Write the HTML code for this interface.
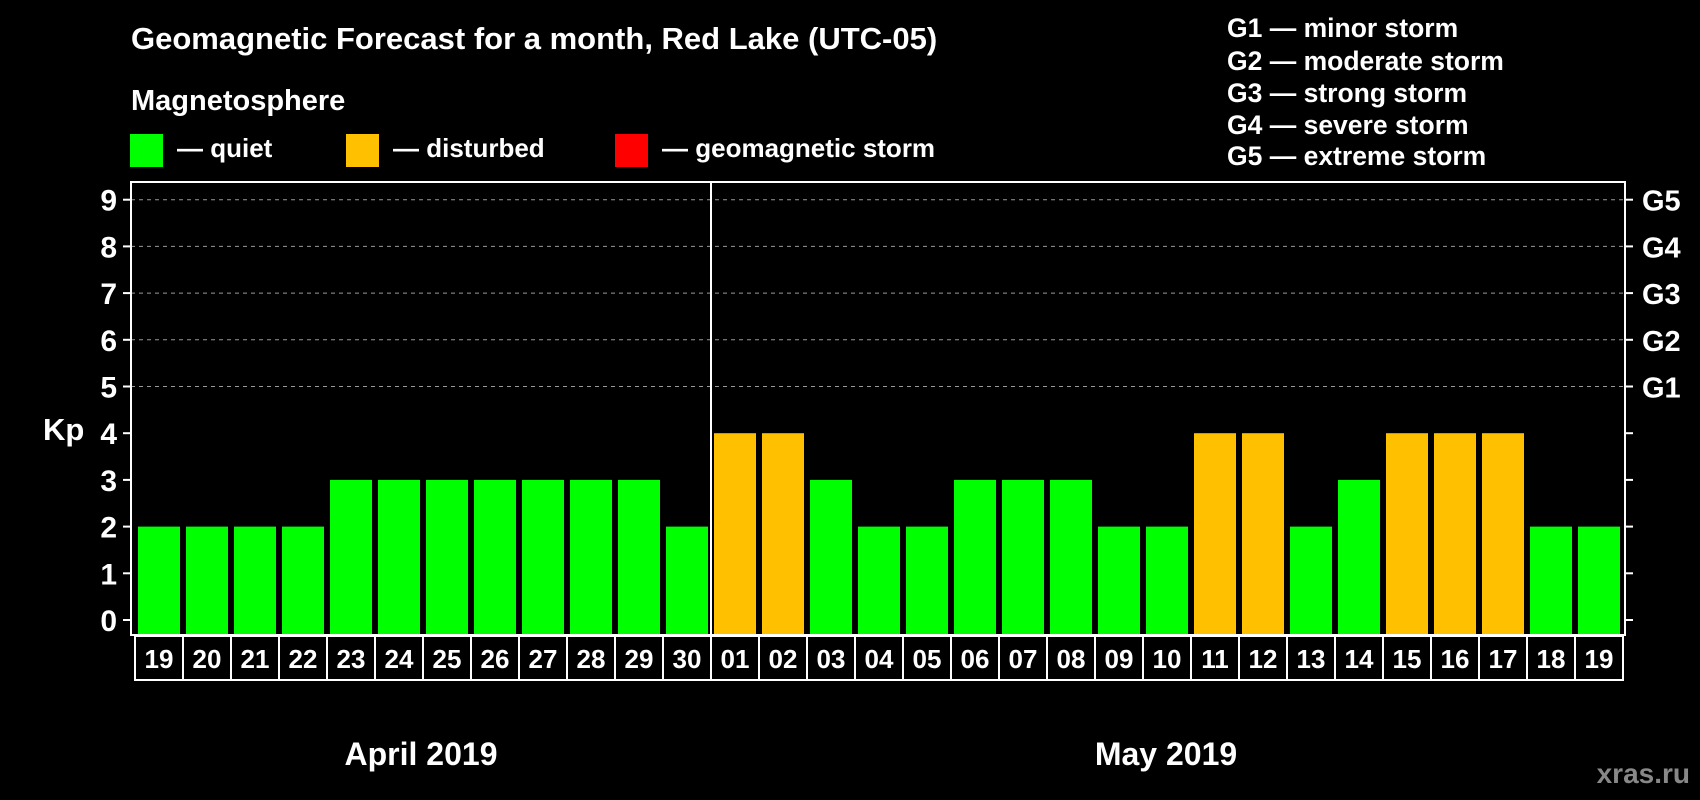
<!DOCTYPE html>
<html><head><meta charset="utf-8"><style>
body{margin:0;background:#000;width:1700px;height:800px;overflow:hidden}
svg{display:block;font-family:"Liberation Sans",sans-serif;font-weight:bold}
</style></head><body>
<svg id="c" width="1700" height="800">
<text x="131" y="49" fill="#fff" font-size="31">Geomagnetic Forecast for a month, Red Lake (UTC-05)</text>
<text x="131" y="110" fill="#fff" font-size="29">Magnetosphere</text>
<g><rect x="130" y="134" width="33" height="33" fill="#00ff00"/><text x="177" y="157" fill="#fff" font-size="26">— quiet</text></g>
<g><rect x="346" y="134" width="33" height="33" fill="#ffc000"/><text x="393" y="157" fill="#fff" font-size="26">— disturbed</text></g>
<g><rect x="615" y="134" width="33" height="33" fill="#ff0000"/><text x="662" y="157" fill="#fff" font-size="26">— geomagnetic storm</text></g>
<g fill="#fff" font-size="26.5">
<text x="1227" y="37">G1 — minor storm</text><text x="1227" y="70">G2 — moderate storm</text><text x="1227" y="102">G3 — strong storm</text><text x="1227" y="134">G4 — severe storm</text><text x="1227" y="165">G5 — extreme storm</text></g>
<text x="43" y="440" fill="#fff" font-size="31">Kp</text>
<text x="421" y="765" fill="#fff" font-size="32" text-anchor="middle">April 2019</text>
<text x="1166" y="765" fill="#fff" font-size="32" text-anchor="middle">May 2019</text>
<text x="1690" y="783" fill="#888" font-size="28" text-anchor="end">xras.ru</text>
<g id="g"></g>
</svg>
<script>
const days=["19","20","21","22","23","24","25","26","27","28","29","30","01","02","03","04","05","06","07","08","09","10","11","12","13","14","15","16","17","18","19"];
const kp=[2,2,2,2,3,3,3,3,3,3,3,2,4,4,3,2,2,3,3,3,2,2,4,4,2,3,4,4,4,2,2];
const yTicks=[0,1,2,3,4,5,6,7,8,9];
const gLabels=["G1","G2","G3","G4","G5"];
const NS="http://www.w3.org/2000/svg",g=document.getElementById('g');
const L=131,R=1625,T=182,B=635,x0=135,slot=48;
const y=v=>620-v*46.7;
const xs=i=>x0+i*slot;
function mk(t,a){const e=document.createElementNS(NS,t);for(const k in a)e.setAttribute(k,a[k]);g.appendChild(e);return e;}
yTicks.forEach(v=>{
  if(v>=5){const l=mk('line',{x1:L,x2:R,y1:y(v),y2:y(v),stroke:'#999','stroke-dasharray':'4 4'});
  
  }
  mk('line',{x1:L-8,x2:L,y1:y(v),y2:y(v),stroke:'#fff','stroke-width':2});
  mk('line',{x1:R,x2:R+8,y1:y(v),y2:y(v),stroke:'#fff','stroke-width':2});
  const t=mk('text',{x:L-14,y:y(v)+11,fill:'#fff','font-size':30,'text-anchor':'end'});t.textContent=v;
  
  
});
gLabels.forEach((s,i)=>{const t=mk('text',{x:R+17,y:y(5+i)+11,fill:'#fff','font-size':29});t.textContent=s;
  
  });
kp.forEach((v,i)=>{
  const r=mk('rect',{x:xs(i)+3,y:y(v),width:42,height:B-y(v),fill:v>=5?'#ff0000':v>=4?'#ffc000':'#00ff00'});
  
  
  mk('rect',{x:xs(i),y:636,width:slot,height:44,fill:'none',stroke:'#fff','stroke-width':2});
  const t=mk('text',{x:xs(i)+slot/2,y:668,fill:'#fff','font-size':26,'text-anchor':'middle'});t.textContent=days[i];
  
  
});
const f=mk('rect',{x:L,y:T,width:R-L,height:B-T,fill:'none',stroke:'#fff','stroke-width':2});


const d=mk('line',{x1:xs(12),x2:xs(12),y1:T,y2:B,stroke:'#fff','stroke-width':2});


</script>
</body></html>
